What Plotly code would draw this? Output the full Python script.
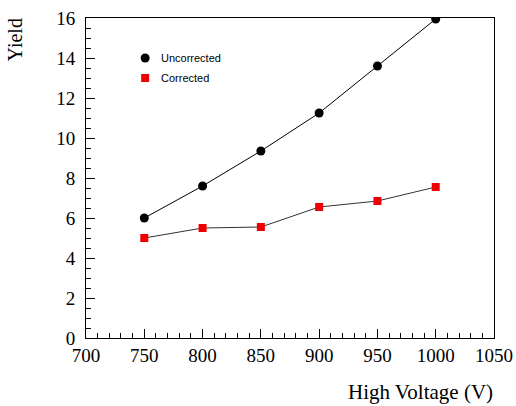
import plotly.graph_objects as go

voltage = [750, 800, 850, 900, 950, 1000]
uncorrected = [6.0, 7.6, 9.35, 11.25, 13.6, 15.95]
corrected = [5.0, 5.5, 5.55, 6.55, 6.85, 7.55]
series_names = ["Uncorrected", "Corrected"]

fig = go.Figure()
fig.add_trace(go.Scatter(x=voltage, y=uncorrected, mode="lines+markers", name=series_names[0], showlegend=False,
                         line=dict(color="black", width=1),
                         marker=dict(symbol="circle", size=9, color="black")))
fig.add_trace(go.Scatter(x=voltage, y=corrected, mode="lines+markers", name=series_names[1], showlegend=False,
                         line=dict(color="#333333", width=1),
                         marker=dict(symbol="square", size=8, color="#ee0000")))

axis_common = dict(showgrid=False, zeroline=False, showline=True, linecolor="black", linewidth=1,
                   mirror=True, ticks="inside", tickcolor="black", ticklen=9, automargin=False,
                   tickfont=dict(family="Liberation Serif", size=19, color="black"))
fig.update_xaxes(range=[700, 1050], dtick=50, tick0=700,
                 minor=dict(dtick=10, ticks="inside", ticklen=5, tickcolor="black"),
                 **axis_common)
fig.update_yaxes(range=[0, 16], dtick=2, tick0=0, ticklabelstandoff=6,
                 minor=dict(dtick=0.5, ticks="inside", ticklen=5, tickcolor="black"),
                 **axis_common)

# manual legend (paper coordinates)
leg_x = 0.145
leg_y = [0.875, 0.8125]
shapes = [
    dict(type="circle", xref="paper", yref="paper", xsizemode="pixel", ysizemode="pixel",
         xanchor=leg_x, yanchor=leg_y[0], x0=-4.5, x1=4.5, y0=-4.5, y1=4.5,
         fillcolor="black", line=dict(width=0)),
    dict(type="rect", xref="paper", yref="paper", xsizemode="pixel", ysizemode="pixel",
         xanchor=leg_x, yanchor=leg_y[1], x0=-4, x1=4, y0=-4, y1=4,
         fillcolor="#ee0000", line=dict(width=0)),
]
annotations = [
    dict(text=series_names[i], xref="paper", yref="paper", x=0.179, y=leg_y[i], xanchor="left", yanchor="middle",
         showarrow=False, font=dict(family="Liberation Sans", size=11, color="black"))
    for i in range(2)
]
annotations += [
    dict(text="Yield", xref="paper", yref="paper", x=-0.174, y=0.93, xanchor="center", yanchor="middle",
         textangle=-90, showarrow=False, font=dict(family="Liberation Serif", size=20, color="black")),
    dict(text="High Voltage (V)", xref="paper", yref="paper", x=1.002, y=-0.2115, xanchor="right", yanchor="bottom",
         showarrow=False, font=dict(family="Liberation Serif", size=21, color="black")),
]

fig.update_layout(
    width=516, height=406,
    margin=dict(l=86, r=22, t=18, b=68, autoexpand=False),
    plot_bgcolor="white", paper_bgcolor="white",
    showlegend=False,
    shapes=shapes,
    annotations=annotations,
)
fig.write_html("out.html", config={"displayModeBar": False},
               post_script="document.body.style.margin='0px';document.body.style.overflow='hidden';")
